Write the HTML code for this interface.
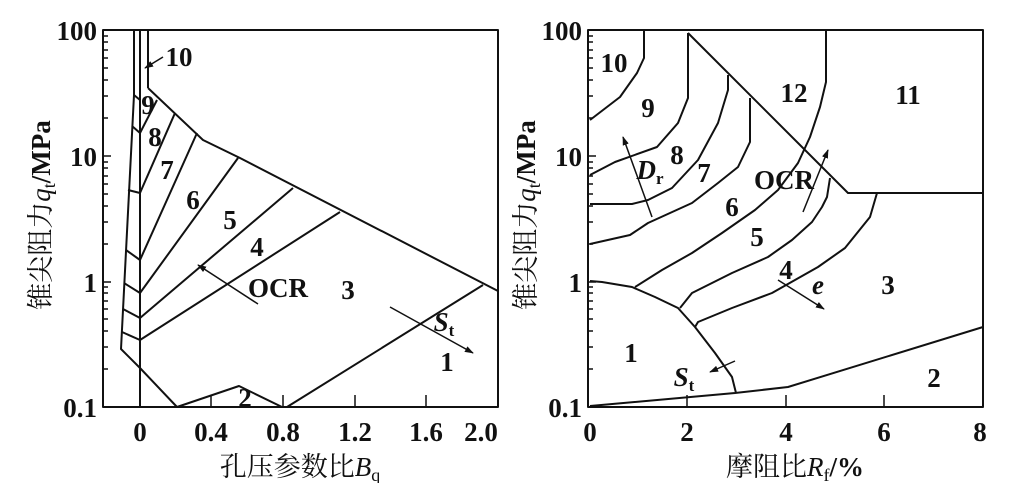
<!DOCTYPE html>
<html><head><meta charset="utf-8"><style>
html,body{margin:0;padding:0;background:#fff;}
svg{display:block;}
text{font-family:"Liberation Serif","Noto Serif CJK SC",serif;font-weight:bold;fill:#111;}
.c{font-family:"Liberation Serif","Noto Serif CJK SC","Noto Sans CJK SC",serif;font-weight:normal;}
</style></head><body>
<svg id="s" width="1010" height="483" viewBox="0 0 1010 483" xmlns="http://www.w3.org/2000/svg">
<defs><marker id="a" viewBox="0 0 10 10" refX="9" refY="5" markerWidth="9" markerHeight="9" orient="auto" markerUnits="userSpaceOnUse"><path d="M0,1.5 L10,5 L0,8.5 Z" fill="#111"/></marker></defs>
<g fill="none" stroke="#111" stroke-width="2" stroke-linejoin="round">
<rect x="103" y="30" width="395" height="377"/>
<line x1="134" y1="30" x2="134" y2="95"/>
<line x1="140" y1="30" x2="140" y2="407"/>
<line x1="148" y1="30" x2="148" y2="88"/>
<polyline points="134,95 121,349 140,368 177,407 239,386 282,407"/>
<polyline points="148,88 203,140 240,158 498,291"/>
<polyline points="287,407 483,285"/>
<line x1="134" y1="95" x2="140" y2="100"/>
<line x1="132" y1="126" x2="140" y2="133"/>
<line x1="128" y1="190" x2="140" y2="193"/>
<line x1="126" y1="250" x2="140" y2="260"/>
<line x1="124" y1="283" x2="140" y2="293"/>
<line x1="123" y1="309" x2="140" y2="318"/>
<line x1="122" y1="332" x2="140" y2="340"/>
<line x1="140" y1="133" x2="157" y2="100"/>
<line x1="140" y1="193" x2="175" y2="113"/>
<line x1="140" y1="260" x2="197" y2="133"/>
<line x1="140" y1="293" x2="238" y2="158"/>
<line x1="140" y1="318" x2="293" y2="188"/>
<line x1="140" y1="340" x2="340" y2="212"/>
<g stroke-width="1.5">
<line x1="258" y1="304" x2="198" y2="265" marker-end="url(#a)"/>
<line x1="390" y1="307" x2="473" y2="353" marker-end="url(#a)"/>
<line x1="163" y1="57" x2="145" y2="68" marker-end="url(#a)"/>
</g>
<rect x="588" y="30" width="395" height="377"/>
<polyline points="644,30 644,58 637,73 620,97 590,120"/>
<polyline points="688,33 688,98 678,123 657,147 615,162 590,175"/>
<polyline points="688,33 848,193 983,193"/>
<polyline points="728,75 728,90 718,123 698,160 672,188 648,200 632,204 590,204"/>
<polyline points="750,98 750,142 738,167 718,183 692,203 648,223 630,235 590,244"/>
<polyline points="826,30 826,82 820,107 810,137 798,163 778,190 755,210 722,233 692,253 662,270 635,287"/>
<polyline points="830,178 827,197 822,207 812,222 792,240 768,257 732,273 692,293 680,308"/>
<polyline points="877,193 870,217 845,248 818,267 772,293 732,308 698,322 695,327"/>
<polyline points="590,281 602,282 632,287 655,297 678,308 695,327 715,353 732,377 736,393"/>
<polyline points="590,406 735,393 788,387 983,327"/>
<g stroke-width="1.5">
<line x1="652" y1="217" x2="623" y2="137" marker-end="url(#a)"/>
<line x1="803" y1="212" x2="828" y2="150" marker-end="url(#a)"/>
<line x1="778" y1="280" x2="824" y2="309" marker-end="url(#a)"/>
<line x1="735" y1="361" x2="710" y2="372" marker-end="url(#a)"/>
</g>
<g id="ticks" stroke-width="1.5"></g>
</g>
<g font-size="27" text-anchor="middle">
<text x="179" y="66">10</text><text x="148" y="114">9</text><text x="155" y="146">8</text>
<text x="167" y="179">7</text><text x="193" y="209">6</text><text x="230" y="229">5</text>
<text x="257" y="256">4</text><text x="278" y="297">OCR</text><text x="348" y="299">3</text>
<text x="447" y="371">1</text><text x="245" y="407">2</text>
<text x="444" y="331" font-style="italic" font-weight="normal">S<tspan font-size="17" dy="5" font-style="normal">t</tspan></text>
<text x="614" y="72">10</text><text x="648" y="117">9</text><text x="677" y="164">8</text>
<text x="704" y="182">7</text><text x="784" y="189">OCR</text><text x="732" y="216">6</text>
<text x="757" y="246">5</text><text x="794" y="102">12</text><text x="908" y="104">11</text>
<text x="786" y="279">4</text><text x="888" y="294">3</text><text x="631" y="362">1</text><text x="934" y="387">2</text>
<text x="650" y="179" font-style="italic" font-weight="normal">D<tspan font-size="17" dy="5" font-style="normal">r</tspan></text>
<text x="818" y="294" font-style="italic" font-weight="normal">e</text>
<text x="684" y="386" font-style="italic" font-weight="normal">S<tspan font-size="17" dy="5" font-style="normal">t</tspan></text>
</g>
<g font-size="27" text-anchor="end">
<text x="97" y="40">100</text><text x="97" y="166">10</text><text x="97" y="292">1</text><text x="97" y="417">0.1</text>
<text x="582" y="40">100</text><text x="582" y="166">10</text><text x="582" y="292">1</text><text x="582" y="417">0.1</text>
</g>
<g font-size="27" text-anchor="middle">
<text x="140" y="441">0</text><text x="211" y="441">0.4</text><text x="283" y="441">0.8</text><text x="355" y="441">1.2</text><text x="426" y="441">1.6</text><text x="481" y="441">2.0</text>
<text x="590" y="441">0</text><text x="687" y="441">2</text><text x="786" y="441">4</text><text x="884" y="441">6</text><text x="980" y="441">8</text>
</g>
<text class="c" x="300" y="476" font-size="27" text-anchor="middle">孔压参数比<tspan font-style="italic" font-family="Liberation Serif">B</tspan><tspan font-size="18" dy="5" font-family="Liberation Serif">q</tspan></text>
<text class="c" x="795" y="476" font-size="27" text-anchor="middle">摩阻比<tspan font-style="italic" font-family="Liberation Serif">R</tspan><tspan font-size="18" dy="5" font-family="Liberation Serif">f</tspan><tspan dy="-5" font-family="Liberation Serif" font-weight="bold">/%</tspan></text>
<text class="c" transform="translate(50,215) rotate(-90)" font-size="27" text-anchor="middle">锥尖阻力<tspan font-style="italic" font-family="Liberation Serif">q</tspan><tspan font-size="18" dy="5" font-family="Liberation Serif">t</tspan><tspan dy="-5" font-family="Liberation Serif" font-weight="bold">/MPa</tspan></text>
<text class="c" transform="translate(535,215) rotate(-90)" font-size="27" text-anchor="middle">锥尖阻力<tspan font-style="italic" font-family="Liberation Serif">q</tspan><tspan font-size="18" dy="5" font-family="Liberation Serif">t</tspan><tspan dy="-5" font-family="Liberation Serif" font-weight="bold">/MPa</tspan></text>
</svg>
<script>
var g=document.getElementById('ticks'),h='';
var offs=[38,60,76,88,98,106,114,120];
[103,588].forEach(function(x0){
 [407,282,156].forEach(function(yb){
  h+='<line x1="'+x0+'" y1="'+yb+'" x2="'+(x0+8)+'" y2="'+yb+'"/>';
  offs.forEach(function(o){var y=yb-o;h+='<line x1="'+x0+'" y1="'+y+'" x2="'+(x0+5)+'" y2="'+y+'"/>';});
 });
});
[211,283,355,426].forEach(function(x){h+='<line x1="'+x+'" y1="407" x2="'+x+'" y2="395"/>';});
[687,786,884].forEach(function(x){h+='<line x1="'+x+'" y1="407" x2="'+x+'" y2="395"/>';});
g.innerHTML=h;
</script>
</body></html>
